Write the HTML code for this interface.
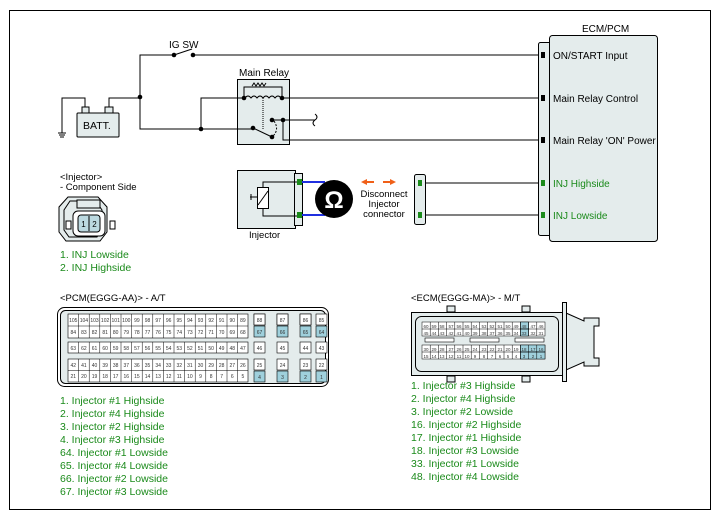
<!DOCTYPE html>
<html><head><meta charset="utf-8"><style>
html,body{margin:0;padding:0;background:#fff;width:719px;height:519px;overflow:hidden}
svg{display:block}
text{font-family:"Liberation Sans",sans-serif}
.p{font-size:5px;text-anchor:middle;fill:#333}
.g{fill:#1a8a1a}
</style></head><body>
<svg width="719" height="519" viewBox="0 0 719 519" xmlns="http://www.w3.org/2000/svg">
<rect x="9.5" y="10.5" width="701" height="499" fill="#fff" stroke="#000" stroke-width="1"/>
<rect x="237.5" y="79.5" width="52" height="65" fill="#e4ecec" stroke="#000"/>
<g stroke="#000" stroke-width="1" fill="none">
<polyline points="140,97 140,55 174,55"/>
<line x1="174" y1="55" x2="192" y2="49"/>
<line x1="193" y1="55" x2="538" y2="55"/>
<polyline points="62,129 62,98 85,98 85,108"/>
<polyline points="109,108 109,98 140,98 140,129 253,129"/>
<polyline points="201,129 201,98 244,98"/>
<line x1="283" y1="98" x2="538" y2="98"/>
<line x1="272" y1="120" x2="315" y2="120"/>
<polyline points="283,120 283,140 538,140"/>
<line x1="253" y1="128" x2="272" y2="137"/>
<path d="M274,121 Q280,130 272,137" stroke-dasharray="2,1.5"/>
<polyline points="244,98 244,87 282,87 282,98"/>
<line x1="263" y1="98" x2="263" y2="130" stroke-dasharray="1,1"/>
<path d="M245,98 q3,-4 6,0 q3,-4 6,0 q3,-4 6,0 q3,-4 6,0 q3,-4 6,0 q3,-4 6,0"/>
<path d="M315,114 q4,3 0,6 q-4,3 0,6"/>
<polyline points="62,129 62,133"/>
<line x1="58" y1="133" x2="66" y2="133"/><line x1="59" y1="135" x2="65" y2="135"/><line x1="60" y1="137" x2="64" y2="137"/>
<line x1="422" y1="183" x2="538" y2="183"/><line x1="422" y1="215" x2="538" y2="215"/>
</g>
<path d="M252,86 l2,-3 2,3 2,-3 2,3 2,-3 2,3 2,-3" stroke="#000" fill="none" stroke-width="1"/>
<g fill="#000">
<circle cx="174" cy="55" r="2.3"/><circle cx="193" cy="55" r="2.3"/>
<circle cx="140" cy="97" r="2.3"/><circle cx="201" cy="129" r="2.3"/>
<circle cx="244" cy="98" r="2.3"/><circle cx="282" cy="98" r="2.3"/>
<circle cx="272" cy="120" r="2.3"/><circle cx="283" cy="120" r="2.3"/>
<circle cx="253" cy="128" r="2.3"/><circle cx="272" cy="137" r="2.3"/>
</g>
<rect x="77" y="113" width="42" height="24" fill="#e4ecec" stroke="#000" rx="1"/>
<rect x="82" y="107" width="7" height="6" fill="#e4ecec" stroke="#000"/>
<rect x="105" y="107" width="8" height="6" fill="#e4ecec" stroke="#000"/>
<text x="83" y="129" font-size="10.5">BATT.</text>
<text x="169" y="48" font-size="10">IG SW</text>
<text x="239" y="76" font-size="10">Main Relay</text>
<rect x="538.5" y="42.5" width="14" height="193" rx="2" fill="#e4ecec" stroke="#000"/>
<rect x="549.5" y="35.5" width="108" height="206" rx="3" fill="#e4ecec" stroke="#000"/>
<text x="582" y="32" font-size="10">ECM/PCM</text>
<g fill="#000"><rect x="541" y="52" width="4" height="6"/><rect x="541" y="95" width="4" height="6"/><rect x="541" y="137" width="4" height="6"/></g>
<g fill="#1a8a1a"><rect x="541" y="180" width="4" height="6"/><rect x="541" y="212" width="4" height="6"/></g>
<g font-size="10"><text x="553" y="59">ON/START Input</text><text x="553" y="102">Main Relay Control</text><text x="553" y="144">Main Relay 'ON' Power</text>
<text x="553" y="187" class="g">INJ Highside</text><text x="553" y="219" class="g">INJ Lowside</text></g>
<rect x="237.5" y="170.5" width="58" height="58" fill="#e4ecec" stroke="#000"/>
<rect x="294.5" y="173.5" width="8" height="52" fill="#e4ecec" stroke="#000"/>
<polyline points="298,182 263,182 263,187" stroke="#000" fill="none"/>
<polyline points="298,216 263,216 263,209" stroke="#000" fill="none"/>
<rect x="257.5" y="187.5" width="11" height="21" fill="#fff" stroke="#000"/>
<line x1="258" y1="205" x2="268" y2="191" stroke="#000"/>
<path d="M250,197 h7 M251,194 l0,6" stroke="#000"/>
<g fill="#1a8a1a"><rect x="297" y="179" width="5" height="6"/><rect x="297" y="212" width="5" height="6"/></g>
<line x1="302" y1="182" x2="325" y2="182" stroke="#1f2fe0" stroke-width="2"/>
<line x1="302" y1="215" x2="325" y2="215" stroke="#1f2fe0" stroke-width="2"/>
<circle cx="334" cy="199" r="19" fill="#000"/>
<text x="334" y="208" font-size="24" font-weight="bold" fill="#fff" text-anchor="middle">Ω</text>
<text x="249" y="238" font-size="9.5">Injector</text>
<path d="M366,182 h8 M383,182 h8" stroke="#f06018" stroke-width="2"/>
<path d="M361,182 l6,-3 v6z M396,182 l-6,-3 v6z" fill="#f06018"/>
<g font-size="9.5" text-anchor="middle"><text x="384" y="197">Disconnect</text><text x="384" y="207">Injector</text><text x="384" y="217">connector</text></g>
<rect x="414.5" y="174.5" width="11" height="50" rx="2" fill="#e4ecec" stroke="#000"/>
<g fill="#1a8a1a"><rect x="418" y="180" width="4" height="6"/><rect x="418" y="212" width="4" height="6"/></g>
<text x="60" y="180" font-size="9.5">&lt;Injector&gt;</text>
<text x="60" y="190" font-size="9.5">- Component Side</text>
<path d="M68,197 h30 l9,10 v25 l-7,9 h-34 l-7,-9 v-25z" fill="#e4ecec" stroke="#000"/>
<path d="M70,201 h26 l6,9 v20 l-5,7 h-28 l-5,-7 v-20z" fill="none" stroke="#000"/>
<rect x="77" y="200" width="23" height="8" fill="#e4ecec" stroke="#000"/>
<rect x="66" y="221" width="5" height="8" fill="#fff" stroke="#000"/><rect x="110" y="221" width="5" height="8" fill="#fff" stroke="#000"/>
<rect x="73" y="211" width="32" height="25" rx="5" fill="#fff" stroke="#000"/>
<rect x="78" y="215" width="22" height="17" rx="3" fill="#bcd9e0" stroke="#000"/>
<line x1="89" y1="216" x2="89" y2="231" stroke="#000"/>
<text x="83.5" y="227" font-size="8" text-anchor="middle">1</text><text x="94.5" y="227" font-size="8" text-anchor="middle">2</text>
<g font-size="10.5" class="g"><text x="60" y="258">1. INJ Lowside</text><text x="60" y="271">2. INJ Highside</text></g>
<text x="60" y="301" font-size="9.5">&lt;PCM(EGGG-AA)&gt; - A/T</text>
<rect x="57.5" y="307.5" width="271" height="79" rx="7" fill="#fff" stroke="#000"/>
<rect x="60.5" y="310.5" width="265" height="73" rx="5" fill="#e4ecec" stroke="#000"/>
<g fill="#fff" stroke="#000" stroke-width="0.6">
<rect x="68" y="314" width="180" height="24"/><rect x="68" y="342" width="180" height="11"/><rect x="68" y="359" width="180" height="23"/>
</g>
<g stroke="#000" stroke-width="0.5">
<line x1="68" y1="326" x2="248" y2="326"/><line x1="68" y1="370.5" x2="248" y2="370.5"/>
<path d="M78.6,314v24M89.2,314v24M99.8,314v24M110.4,314v24M121,314v24M131.6,314v24M142.2,314v24M152.8,314v24M163.4,314v24M174,314v24M184.6,314v24M195.2,314v24M205.8,314v24M216.4,314v24M227,314v24M237.6,314v24"/>
<path d="M78.6,342v11M89.2,342v11M99.8,342v11M110.4,342v11M121,342v11M131.6,342v11M142.2,342v11M152.8,342v11M163.4,342v11M174,342v11M184.6,342v11M195.2,342v11M205.8,342v11M216.4,342v11M227,342v11M237.6,342v11"/>
<path d="M78.6,359v23M89.2,359v23M99.8,359v23M110.4,359v23M121,359v23M131.6,359v23M142.2,359v23M152.8,359v23M163.4,359v23M174,359v23M184.6,359v23M195.2,359v23M205.8,359v23M216.4,359v23M227,359v23M237.6,359v23"/>
</g>
<g class="p">
<text x="73.3" y="322">105</text><text x="83.9" y="322">104</text><text x="94.5" y="322">103</text><text x="105.1" y="322">102</text><text x="115.7" y="322">101</text><text x="126.3" y="322">100</text><text x="136.9" y="322">99</text><text x="147.5" y="322">98</text><text x="158.1" y="322">97</text><text x="168.7" y="322">96</text><text x="179.3" y="322">95</text><text x="189.9" y="322">94</text><text x="200.5" y="322">93</text><text x="211.1" y="322">92</text><text x="221.7" y="322">91</text><text x="232.3" y="322">90</text><text x="242.9" y="322">89</text>
<text x="73.3" y="334">84</text><text x="83.9" y="334">83</text><text x="94.5" y="334">82</text><text x="105.1" y="334">81</text><text x="115.7" y="334">80</text><text x="126.3" y="334">79</text><text x="136.9" y="334">78</text><text x="147.5" y="334">77</text><text x="158.1" y="334">76</text><text x="168.7" y="334">75</text><text x="179.3" y="334">74</text><text x="189.9" y="334">73</text><text x="200.5" y="334">72</text><text x="211.1" y="334">71</text><text x="221.7" y="334">70</text><text x="232.3" y="334">69</text><text x="242.9" y="334">68</text>
<text x="73.3" y="350">63</text><text x="83.9" y="350">62</text><text x="94.5" y="350">61</text><text x="105.1" y="350">60</text><text x="115.7" y="350">59</text><text x="126.3" y="350">58</text><text x="136.9" y="350">57</text><text x="147.5" y="350">56</text><text x="158.1" y="350">55</text><text x="168.7" y="350">54</text><text x="179.3" y="350">53</text><text x="189.9" y="350">52</text><text x="200.5" y="350">51</text><text x="211.1" y="350">50</text><text x="221.7" y="350">49</text><text x="232.3" y="350">48</text><text x="242.9" y="350">47</text>
<text x="73.3" y="367">42</text><text x="83.9" y="367">41</text><text x="94.5" y="367">40</text><text x="105.1" y="367">39</text><text x="115.7" y="367">38</text><text x="126.3" y="367">37</text><text x="136.9" y="367">36</text><text x="147.5" y="367">35</text><text x="158.1" y="367">34</text><text x="168.7" y="367">33</text><text x="179.3" y="367">32</text><text x="189.9" y="367">31</text><text x="200.5" y="367">30</text><text x="211.1" y="367">29</text><text x="221.7" y="367">28</text><text x="232.3" y="367">27</text><text x="242.9" y="367">26</text>
<text x="73.3" y="378">21</text><text x="83.9" y="378">20</text><text x="94.5" y="378">19</text><text x="105.1" y="378">18</text><text x="115.7" y="378">17</text><text x="126.3" y="378">16</text><text x="136.9" y="378">15</text><text x="147.5" y="378">14</text><text x="158.1" y="378">13</text><text x="168.7" y="378">12</text><text x="179.3" y="378">11</text><text x="189.9" y="378">10</text><text x="200.5" y="378">9</text><text x="211.1" y="378">8</text><text x="221.7" y="378">7</text><text x="232.3" y="378">6</text><text x="242.9" y="378">5</text>
</g>
<g stroke="#000" stroke-width="0.6">
<rect x="254" y="314" width="11" height="11" fill="#fff"/><rect x="277" y="314" width="11" height="11" fill="#fff"/><rect x="300" y="314" width="11" height="11" fill="#fff"/><rect x="322" y="314" width="0" height="0"/>
</g>
<g stroke="#000" stroke-width="0.6" fill="#fff">
<rect x="254" y="314" width="11" height="11"/><rect x="277" y="314" width="11" height="11"/><rect x="300" y="314" width="11" height="11"/><rect x="312" y="314" width="0" height="0"/>
</g>
<g stroke="#000" stroke-width="0.6">
<rect x="254" y="326" width="11" height="11" fill="#9fd0dc"/><rect x="277" y="326" width="11" height="11" fill="#9fd0dc"/><rect x="300" y="326" width="11" height="11" fill="#9fd0dc"/>
<rect x="254" y="342" width="11" height="11" fill="#fff"/><rect x="277" y="342" width="11" height="11" fill="#fff"/><rect x="300" y="342" width="11" height="11" fill="#fff"/>
<rect x="254" y="359" width="11" height="11" fill="#fff"/><rect x="277" y="359" width="11" height="11" fill="#fff"/><rect x="300" y="359" width="11" height="11" fill="#fff"/>
<rect x="254" y="371" width="11" height="11" fill="#9fd0dc"/><rect x="277" y="371" width="11" height="11" fill="#9fd0dc"/><rect x="300" y="371" width="11" height="11" fill="#9fd0dc"/>
</g>
<g class="p">
<text x="259.5" y="322">88</text><text x="282.5" y="322">87</text><text x="305.5" y="322">86</text>
<text x="259.5" y="334">67</text><text x="282.5" y="334">66</text><text x="305.5" y="334">65</text>
<text x="259.5" y="350">46</text><text x="282.5" y="350">45</text><text x="305.5" y="350">44</text>
<text x="259.5" y="367">25</text><text x="282.5" y="367">24</text><text x="305.5" y="367">23</text>
<text x="259.5" y="379">4</text><text x="282.5" y="379">3</text><text x="305.5" y="379">2</text>
</g>
<svg x="0" y="0" width="719" height="519" overflow="visible">
<g stroke="#000" stroke-width="0.6">
<rect x="317" y="314" width="0" height="0"/>
</g>
</svg>
<g stroke="#000" stroke-width="0.6">
<rect x="316" y="314" width="0" height="0"/>
</g>
<g stroke="#000" stroke-width="0.6">
<rect x="315" y="314" width="0" height="0"/>
</g>
<g stroke="#000" stroke-width="0.6">
<rect x="316" y="314" width="11" height="0"/>
</g>
<g stroke="#000" stroke-width="0.6">
<rect x="316" y="314" width="0" height="0"/>
</g>
<g stroke="#000" stroke-width="0.6">
<rect x="316" y="314" width="0" height="0"/>
</g>
<g stroke="#000" stroke-width="0.6">
<rect x="316" y="314" width="0" height="0"/>
</g>
<g stroke="#000" stroke-width="0.6">
<rect x="316" y="314" width="0" height="0"/>
</g>
<g stroke="#000" stroke-width="0.6">
<rect x="316" y="314" width="0" height="0"/>
</g>
<g stroke="#000" stroke-width="0.6">
<rect x="316" y="314" width="0" height="0"/>
</g>
<g stroke="#000" stroke-width="0.6">
<rect x="316" y="314" width="0" height="0"/>
</g>
<g stroke="#000" stroke-width="0.6">
<rect x="316" y="314" width="0" height="0"/>
</g>
<g stroke="#000" stroke-width="0.6">
<rect x="316" y="314" width="0" height="0"/>
</g>
<g stroke="#000" stroke-width="0.6">
<rect x="316" y="314" width="0" height="0"/>
</g>
<g stroke="#000" stroke-width="0.6">
<rect x="322" y="314" width="0" height="0"/>
</g>
<g stroke="#000" stroke-width="0.6">
<rect x="322" y="314" width="0" height="0"/>
</g>
<g stroke="#000" stroke-width="0.6">
<rect x="322" y="314" width="0" height="0"/>
</g>
<g stroke="#000" stroke-width="0.6">
<rect x="316" y="314" width="11" height="11" fill="#fff"/><rect x="316" y="326" width="11" height="11" fill="#9fd0dc"/><rect x="316" y="342" width="11" height="11" fill="#fff"/><rect x="316" y="359" width="11" height="11" fill="#fff"/><rect x="316" y="371" width="11" height="11" fill="#9fd0dc"/>
</g>
<g class="p">
<text x="321.5" y="322">85</text><text x="321.5" y="334">64</text><text x="321.5" y="350">43</text><text x="321.5" y="367">22</text><text x="321.5" y="379">1</text>
</g>
<g font-size="10.5" class="g">
<text x="60" y="404">1. Injector #1 Highside</text><text x="60" y="417">2. Injector #4 Highside</text><text x="60" y="430">3. Injector #2 Highside</text><text x="60" y="443">4. Injector #3 Highside</text>
<text x="60" y="456">64. Injector #1 Lowside</text><text x="60" y="469">65. Injector #4 Lowside</text><text x="60" y="482">66. Injector #2 Lowside</text><text x="60" y="495">67. Injector #3 Lowside</text>
</g>
<text x="411" y="301" font-size="9.5">&lt;ECM(EGGG-MA)&gt; - M/T</text>
<path d="M566,313 L584,321 L584,318 L599,318 L599,326 L594,326 L594,358 L599,358 L599,366 L584,366 L584,362 L566,370z" fill="#e4ecec" stroke="#000"/>
<rect x="562.5" y="302.5" width="4" height="79" fill="#e4ecec" stroke="#000"/>
<rect x="411.5" y="312.5" width="151" height="63" fill="#e4ecec" stroke="#000"/>
<rect x="415.5" y="316.5" width="143" height="55" rx="6" fill="#e4ecec" stroke="#000"/>
<g fill="#e4ecec" stroke="#000"><rect x="447" y="306" width="8" height="6"/><rect x="522" y="306" width="8" height="6"/><rect x="447" y="376" width="8" height="6"/><rect x="522" y="376" width="8" height="6"/></g>
<g fill="#fff" stroke="#000" stroke-width="0.6"><rect x="425" y="338" width="29" height="4"/><rect x="470" y="338" width="29" height="4"/><rect x="515" y="338" width="29" height="4"/></g>
<g stroke="#000" stroke-width="0.5" fill="#fff">
<rect x="422" y="322" width="123" height="14"/><rect x="422" y="345" width="123" height="14"/>
<rect x="520.4" y="322" width="8.2" height="7" fill="#9fd0dc"/><rect x="520.4" y="329" width="8.2" height="7" fill="#9fd0dc"/>
<rect x="520.4" y="345" width="24.6" height="7" fill="#9fd0dc"/><rect x="520.4" y="352" width="24.6" height="7" fill="#9fd0dc"/>
<line x1="422" y1="329" x2="545" y2="329"/><line x1="422" y1="352" x2="545" y2="352"/>
<path d="M430.2,322v14M438.4,322v14M446.6,322v14M454.8,322v14M463,322v14M471.2,322v14M479.4,322v14M487.6,322v14M495.8,322v14M504,322v14M512.2,322v14M520.4,322v14M528.6,322v14M536.8,322v14"/>
<path d="M430.2,345v14M438.4,345v14M446.6,345v14M454.8,345v14M463,345v14M471.2,345v14M479.4,345v14M487.6,345v14M495.8,345v14M504,345v14M512.2,345v14M520.4,345v14M528.6,345v14M536.8,345v14"/>
</g>
<g class="p" style="font-size:4.5px">
<text x="426" y="328">60</text><text x="434" y="328">59</text><text x="442" y="328">58</text><text x="451" y="328">57</text><text x="459" y="328">56</text><text x="467" y="328">55</text><text x="475" y="328">54</text><text x="484" y="328">53</text><text x="492" y="328">52</text><text x="500" y="328">51</text><text x="508" y="328">50</text><text x="516" y="328">49</text><text x="524" y="328">48</text><text x="533" y="328">47</text><text x="541" y="328">46</text>
<text x="426" y="335">45</text><text x="434" y="335">44</text><text x="442" y="335">43</text><text x="451" y="335">42</text><text x="459" y="335">41</text><text x="467" y="335">40</text><text x="475" y="335">39</text><text x="484" y="335">38</text><text x="492" y="335">37</text><text x="500" y="335">36</text><text x="508" y="335">35</text><text x="516" y="335">34</text><text x="524" y="335">33</text><text x="533" y="335">32</text><text x="541" y="335">31</text>
<text x="426" y="351">30</text><text x="434" y="351">29</text><text x="442" y="351">28</text><text x="451" y="351">27</text><text x="459" y="351">26</text><text x="467" y="351">25</text><text x="475" y="351">24</text><text x="484" y="351">23</text><text x="492" y="351">22</text><text x="500" y="351">21</text><text x="508" y="351">20</text><text x="516" y="351">19</text><text x="524" y="351">18</text><text x="533" y="351">17</text><text x="541" y="351">16</text>
<text x="426" y="358">15</text><text x="434" y="358">14</text><text x="442" y="358">13</text><text x="451" y="358">12</text><text x="459" y="358">11</text><text x="467" y="358">10</text><text x="475" y="358">9</text><text x="484" y="358">8</text><text x="492" y="358">7</text><text x="500" y="358">6</text><text x="508" y="358">5</text><text x="516" y="358">4</text><text x="524" y="358">3</text><text x="533" y="358">2</text><text x="541" y="358">1</text>
</g>
<g font-size="10.5" class="g">
<text x="411" y="389">1. Injector #3 Highside</text><text x="411" y="402">2. Injector #4 Highside</text><text x="411" y="415">3. Injector #2 Lowside</text><text x="411" y="428">16. Injector #2 Highside</text>
<text x="411" y="441">17. Injector #1 Highside</text><text x="411" y="454">18. Injector #3 Lowside</text><text x="411" y="467">33. Injector #1 Lowside</text><text x="411" y="480">48. Injector #4 Lowside</text>
</g>
</svg>
</body></html>
